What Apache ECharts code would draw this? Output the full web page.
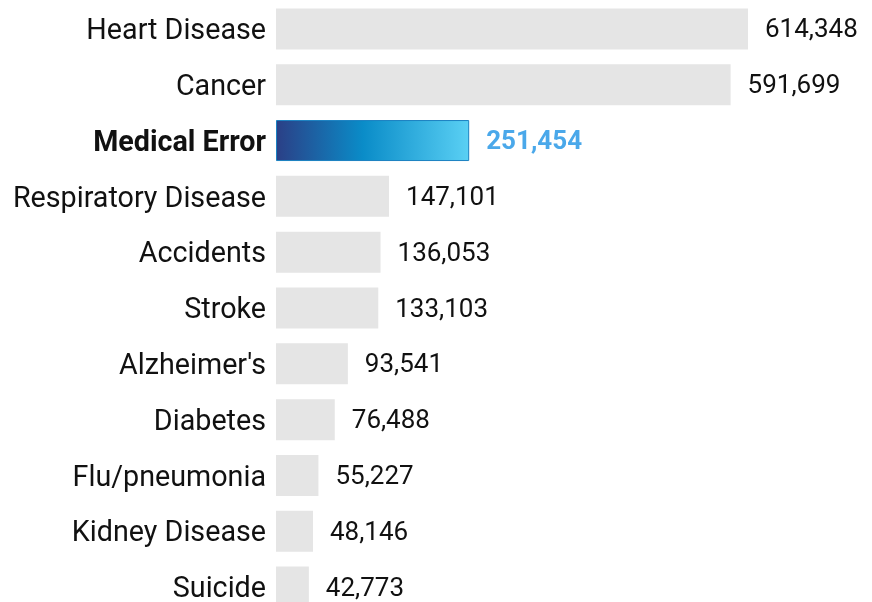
<!DOCTYPE html>
<html><head><meta charset="utf-8">
<script src="https://cdn.jsdelivr.net/npm/echarts@6/dist/echarts.min.js"></script>
<style>html,body{margin:0;padding:0;background:#fff}#c{width:872px;height:602px}</style>
</head><body><div id="c"></div>
<script>
const categories = ["Heart Disease","Cancer","Medical Error","Respiratory Disease","Accidents","Stroke","Alzheimer's","Diabetes","Flu/pneumonia","Kidney Disease","Suicide"];
const deaths = [614348,591699,251454,147101,136053,133103,93541,76488,55227,48146,42773];
const highlight = "Medical Error";

const chart = echarts.init(document.getElementById('c'));
const data = deaths.map((v,i)=>{
  const isH = categories[i]===highlight;
  return isH ? {
    value:v,
    itemStyle:{color:new echarts.graphic.LinearGradient(0,0,1,0,[
      {offset:0,color:'#2b3f86'},{offset:0.45,color:'#0a8cc8'},{offset:1,color:'#5ad0f4'}]),
      borderColor:'#1b82c2',borderWidth:1},
    label:{color:'#4aa8ea',fontWeight:'bold'}
  } : {value:v};
});
chart.setOption({
  animation:false,
  grid:{left:276,right:124,top:1,height:614,containLabel:false,outerBoundsMode:'none'},
  xAxis:{type:'value',min:0,max:614348,show:false},
  yAxis:{type:'category',data:categories,inverse:true,
    axisLine:{show:false},axisTick:{show:false},
    axisLabel:{margin:10,fontFamily:'Roboto',fontSize:28.7,color:'#111',padding:[6,0,0,0],
      formatter:(v)=>v===highlight?'{b|'+v+'}':v,
      rich:{b:{fontWeight:'bold',fontFamily:'Roboto',fontSize:28.7,color:'#111'}}}},
  series:[{type:'bar',data:data,barWidth:41,
    itemStyle:{color:'#e5e5e5'},
    label:{show:true,position:'right',distance:17,offset:[0,2],fontFamily:'Roboto',fontSize:26,color:'#111',
      formatter:(p)=>p.value.toLocaleString('en-US')}}]
});
</script></body></html>
